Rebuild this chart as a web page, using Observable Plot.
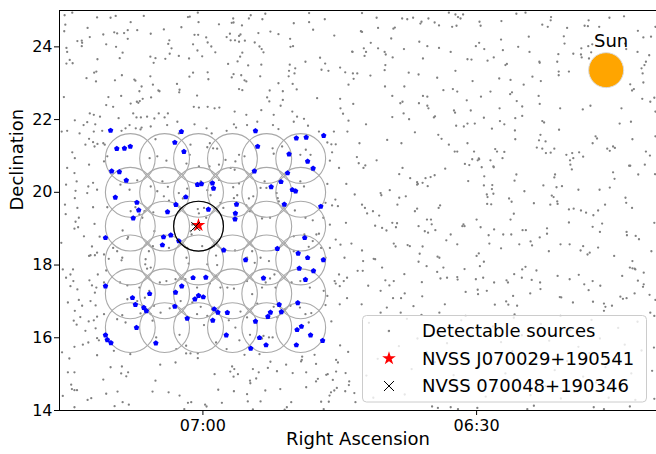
<!DOCTYPE html>
<html><head><meta charset="utf-8">
<script src="https://cdn.jsdelivr.net/npm/d3@7"></script>
<script src="https://cdn.jsdelivr.net/npm/@observablehq/plot@0.6"></script>
<style>html,body{margin:0;padding:0;background:#fff} svg{display:block}</style>
</head><body><div id="chart"></div>
<script>
// ---------- data (RA in degrees, Dec in degrees) ----------
const raDomain = [108.93, 92.57];
const decDomain = [14, 25];
const xTicks = [105, 97.5];
const xTickLabels = ["07:00", "06:30"];
const yTicks = [14, 16, 18, 20, 22, 24];

const target = {name: "NVSS J070029+190541", ra: 105.121, dec: 19.095};
const neighbour = {name: "NVSS 070048+190346", ra: 105.20, dec: 19.063};
const sun = {label: "Sun", ra: 93.95, dec: 23.36};
const sourceLabel = "Detectable sources";

const gridRA = [106.99, 106.05, 105.12, 104.19, 103.25, 102.32];
const gridDec = [20.93, 20.00, 19.07, 18.14, 17.21, 16.28];
const beamRadius = 0.685; // degrees

const grayNorthWest = [
[108.79,24.87],[108.58,24.94],[107.90,24.81],[107.53,24.80],[107.39,24.85],[106.62,24.85],[105.41,24.82],[105.36,24.83],[105.14,24.94],[104.17,24.78],[104.21,24.66],[104.16,24.67],[103.69,24.87],[103.74,24.78],[103.37,24.76],[103.29,24.91],[102.09,24.93],[101.66,24.76],
[108.77,24.61],[106.98,24.68],[105.59,24.54],[105.12,24.68],[104.56,24.62],[103.93,24.59],[102.51,24.65],[102.09,24.68],[101.98,24.47],
[108.80,24.43],[108.16,24.52],[107.73,24.34],[107.43,24.40],[107.35,24.37],[107.16,24.38],[107.06,24.46],[106.80,24.46],[106.43,24.36],[106.07,24.48],[105.23,24.33],[105.13,24.33],[104.91,24.26],[104.35,24.27],[104.26,24.36],[103.97,24.34],[104.01,24.30],[103.48,24.38],[103.15,24.42],[102.93,24.35],[101.40,24.31],[102.61,24.22],
[108.44,24.16],[108.32,24.17],[108.31,24.11],[108.10,24.27],[107.06,24.22],[105.92,24.18],[105.95,24.08],[105.27,24.07],[104.87,24.12],[104.77,24.01],[104.24,24.18],[104.12,24.18],[104.01,24.14],[103.85,24.17],[103.58,24.12],[103.45,24.01],[103.39,23.94],[103.34,23.85],[102.60,24.00],[102.53,24.02],
[108.74,23.97],[108.72,23.86],[108.32,24.02],[107.65,24.07],[107.38,24.00],[105.86,23.96],[105.15,23.90],[104.66,23.85],[100.91,23.87],
[108.65,23.64],[108.74,23.54],[108.57,23.55],[107.89,23.66],[107.28,23.69],[107.20,23.84],[106.44,23.73],[106.35,23.56],[106.30,23.69],[106.03,23.67],[105.91,23.81],[105.66,23.75],[105.38,23.68],[105.02,23.74],[104.31,23.53],[104.05,23.60],[103.92,23.84],[103.98,23.73],[103.76,23.49],[103.40,23.51],[102.62,23.51],[102.19,23.59],[101.79,23.70],[101.65,23.54],[101.24,23.43],[101.75,23.37],[101.56,23.34],[101.10,23.30],[100.89,23.27],[100.77,23.27],
[107.98,23.29],[107.92,23.32],[107.22,23.22],[106.44,23.19],[105.27,23.29],[105.37,23.18],[104.87,23.30],[104.16,23.25],[104.21,23.16],[103.95,23.22],[103.43,23.19],[102.64,23.34],[102.47,23.41],[102.49,23.27],[102.65,23.19],[100.87,23.12],
[108.19,23.14],[107.93,23.05],[107.41,23.08],[106.88,23.10],[106.85,23.07],[106.68,22.91],[106.37,22.96],[105.71,22.98],[105.64,22.82],[105.65,22.75],[104.85,23.11],[103.86,23.08],[103.81,23.05],[102.93,23.00],[102.54,22.98],[102.43,22.83],[101.01,22.96],
[106.74,22.78],[106.22,22.80],[106.19,22.78],[104.01,22.84],[103.92,22.81],[103.17,22.80],[102.81,22.78],
[108.81,22.62],[107.59,22.62],[107.24,22.65],[106.42,22.61],[106.65,22.57],[106.73,22.51],[106.81,22.49],[105.16,22.66],[103.24,22.61],[103.18,22.50],[102.81,22.54],[101.87,22.59],[101.24,22.57]
];

const grayEast = [
[100.64,24.93],[100.24,24.80],[99.54,24.78],[99.40,24.76],[99.24,24.80],[99.01,24.69],[99.04,24.64],[98.82,24.78],[98.65,24.67],[98.53,24.59],[98.26,24.94],[98.08,24.89],[98.01,24.82],[97.94,24.78],[97.87,24.89],[98.05,24.58],[98.17,24.55],[97.42,24.69],[97.39,24.58],[96.82,24.71],[96.41,24.91],[96.16,24.94],[95.70,24.61],[95.55,24.55],[95.46,24.82],[95.47,24.73],[95.02,24.52],[94.54,24.58],[94.43,24.73],[94.45,24.57],[94.14,24.55],[93.86,24.80],[93.46,24.84],[93.08,24.44],[100.67,24.43],[100.20,24.52],[99.78,24.50],[99.74,24.53],[92.60,24.55],
[100.64,24.41],[99.84,24.23],[100.40,24.11],[100.59,23.96],[100.53,23.86],[100.90,23.86],[100.02,23.86],[99.99,23.79],[100.20,23.96],[99.49,23.94],[99.07,24.14],[98.85,24.02],[98.53,23.97],[98.21,23.86],[97.52,24.02],[97.43,24.11],[97.29,23.94],[96.83,24.20],[96.78,23.91],[96.36,24.00],[96.07,24.28],[96.05,23.86],[95.11,24.29],[95.09,24.09],[95.26,23.80],[94.85,23.81],[94.64,23.79],[94.63,23.96],[94.44,24.02],[94.33,24.07],[94.36,23.85],[93.43,24.09],[93.40,23.94],[93.09,23.86],[92.93,24.26],[92.72,24.28],[92.77,23.77],
[100.57,23.75],[99.80,23.71],[98.97,23.68],[97.75,23.66],[97.64,23.65],[97.20,23.62],[97.03,23.71],[96.67,23.53],[96.71,23.50],[95.78,23.59],[95.77,23.56],[95.29,23.59],[95.25,23.32],[95.25,23.22],[94.97,23.32],[94.62,23.71],[94.42,23.68],[92.86,23.59],[92.90,23.50],[92.98,23.41],[92.95,23.27],[100.00,23.50],[100.02,23.36],[100.41,23.21],[99.36,23.29],[99.09,23.24],[98.58,23.15],[98.08,23.34],[96.88,23.13],[96.57,23.09],[95.97,23.18],[95.74,23.06],
[100.01,22.91],[99.48,22.91],[97.61,23.06],[96.21,22.96],[92.93,23.02],[93.29,22.97],[93.19,22.84],[93.24,22.80],[98.15,22.84],[98.03,22.77],[98.41,22.81],[97.12,22.77],[96.58,22.70],[96.53,22.75],[95.80,22.65],[99.81,22.65],[98.97,22.65],[98.85,22.63],[99.08,22.45],[99.53,22.49],[99.59,22.45],[97.77,22.53],[97.38,22.63],[96.40,22.51],[94.38,22.38],[94.59,22.28],[95.21,22.31],[93.53,22.31],[92.96,22.57],[92.74,22.49],[92.63,22.60],
[101.23,22.31],[101.16,22.16],[101.01,21.97],[101.04,21.67],[100.88,22.43],[100.53,21.87],[99.81,22.07],[99.50,22.17],[99.35,22.01],[98.82,22.31],[98.85,22.38],[98.64,22.09],[98.67,22.06],[98.12,22.25],[98.09,22.19],[98.06,21.83],[97.85,21.81],[97.75,21.89],[97.66,22.25],[97.55,21.89],[97.30,22.05],[97.08,21.75],[96.87,22.31],[96.86,21.96],[96.74,21.87],[96.44,22.04],[96.25,22.36],[96.25,22.10],[95.77,22.43],[95.70,21.96],[95.65,21.92],[95.24,21.72],[93.58,21.89],[93.27,21.94],[92.60,22.22],
[99.95,21.44],[99.56,21.35],[99.19,21.65],[98.55,21.58],[98.46,21.47],[98.26,21.31],[98.10,21.12],[98.03,21.12],[97.75,21.35],[97.57,21.12],[97.44,20.93],[97.62,20.91],[97.04,20.71],[96.99,21.19],[96.94,21.12],[96.79,20.94],[96.74,21.11],[96.44,21.46],[96.45,21.70],[95.79,21.43],[95.75,21.58],[95.85,21.23],[95.70,21.20],[95.60,21.08],[95.47,21.09],[95.37,21.20],[95.61,21.40],[95.04,21.03],[94.88,21.08],[94.85,20.94],[94.69,21.10],[94.58,20.98],[94.24,21.54],[94.20,21.48],[94.32,21.35],[93.92,21.20],[93.85,21.14],[93.76,21.26],[93.71,21.22],[93.23,21.46],[92.75,21.01],[92.86,21.12],[92.60,21.54],[100.78,20.97],[100.71,21.35],[100.24,20.88],
[101.07,20.23],[100.73,20.80],[100.60,20.67],[100.55,20.74],[99.53,20.67],[99.62,20.50],[99.32,20.39],[99.13,20.28],[99.11,20.23],[98.98,20.26],[98.90,20.39],[98.76,20.42],[98.65,20.47],[98.36,20.65],[97.73,20.31],[97.82,20.78],[97.70,20.75],[97.47,20.88],[97.43,20.91],[97.29,20.44],[97.12,20.88],[97.36,20.69],[97.03,20.69],[97.07,20.20],[96.41,20.49],[96.46,20.32],[95.67,20.19],[95.35,20.49],[95.37,20.41],[95.31,20.14],[95.16,20.17],[94.94,20.88],[94.93,20.76],[94.89,20.63],[93.76,20.55],[93.72,20.37],[93.85,20.13],[94.13,20.07],[93.32,20.73],[93.29,20.73],[93.07,20.49],[92.89,20.76],[92.61,20.50],
[100.84,19.94],[100.13,19.98],[100.11,19.92],[99.88,20.06],[99.62,19.85],[99.44,19.89],[99.67,19.66],[99.13,20.21],[98.84,20.17],[97.30,20.19],[97.22,19.94],[97.20,19.87],[97.08,20.09],[97.04,19.96],[97.21,19.68],[97.10,19.67],[96.61,19.83],[96.54,19.74],[96.19,20.03],[95.93,19.70],[95.44,19.91],[95.39,19.87],[95.48,19.66],[95.29,19.75],[95.28,19.68],[94.71,20.07],[94.97,19.53],[94.84,19.55],[94.64,19.50],[94.50,19.44],[94.30,19.37],[94.17,19.50],[93.98,19.66],[93.40,19.71],[93.42,19.85],[93.24,19.57],[100.64,19.66],[100.56,19.57],[100.50,19.42],[100.34,19.48],[100.17,19.36],
[101.08,19.16],[100.28,19.08],[100.09,19.02],[99.97,18.95],[99.81,19.16],[99.68,19.15],[99.71,19.04],[99.19,19.48],[99.13,19.55],[99.09,19.07],[98.86,19.25],[98.75,19.25],[98.73,19.12],[98.92,18.93],[98.83,18.89],[98.63,18.96],[98.54,19.57],[98.50,19.64],[97.86,19.12],[97.89,19.07],[97.50,19.25],[97.39,19.04],[97.02,18.98],[97.17,18.82],[96.77,18.84],[96.55,18.84],[96.48,19.41],[96.57,19.25],[96.24,18.96],[96.15,18.96],[95.77,18.76],[95.57,19.01],[94.97,19.17],[94.32,19.05],[94.06,19.14],[94.12,18.91],[93.39,18.91],[93.38,18.82],[93.14,18.80],[93.05,18.71],[92.63,19.16],
[100.93,18.59],[100.64,18.40],[100.32,18.17],[100.28,18.16],[99.77,18.59],[99.72,18.51],[99.39,18.55],[99.33,18.52],[99.06,18.31],[98.98,18.51],[98.57,18.23],[98.52,18.20],[98.33,18.68],[98.21,18.84],[98.03,18.57],[97.83,19.07],[97.44,18.32],[97.30,18.09],[97.50,18.25],[97.15,18.59],[96.83,18.46],[96.33,18.57],[96.02,18.65],[95.98,18.54],[95.57,18.86],[95.52,18.38],[95.20,18.57],[94.95,18.57],[94.65,18.40],[94.58,18.52],[94.46,18.29],[94.40,18.34],[94.17,18.48],[93.73,18.25],[93.23,18.11],[93.15,17.88],[92.71,18.38],[101.12,18.20],
[100.76,17.84],[100.62,17.84],[100.61,18.11],[100.09,17.93],[100.00,17.58],[99.89,17.44],[99.77,17.56],[99.48,17.75],[99.09,18.09],[99.00,17.53],[98.87,17.97],[98.58,17.81],[98.49,17.63],[98.41,17.93],[98.31,17.65],[98.03,17.67],[98.02,17.60],[97.83,17.89],[97.52,17.61],[97.41,17.97],[97.32,17.65],[97.02,17.52],[96.68,17.58],[96.64,17.52],[96.47,17.75],[96.25,17.88],[96.26,17.65],[96.16,17.95],[95.99,17.59],[95.86,17.85],[95.76,17.52],[95.28,17.70],[94.95,17.61],[94.70,17.73],[94.55,17.47],[94.32,17.56],[94.11,17.43],[93.51,17.70],[93.30,17.93],[93.23,17.91],[93.17,17.90],[93.08,17.57],[92.92,17.79],[92.92,17.47],[92.94,17.40],[100.47,17.43],[101.14,17.56],[101.05,17.65],
[101.05,17.09],[100.65,16.92],[100.13,17.29],[99.96,16.83],[99.79,17.09],[99.57,17.09],[99.47,17.22],[99.23,16.87],[98.99,17.14],[98.37,16.92],[97.80,17.26],[97.47,17.32],[97.46,17.20],[97.22,17.29],[97.00,16.91],[96.69,17.00],[96.63,16.91],[96.50,17.15],[96.39,16.88],[96.03,17.22],[95.75,17.34],[95.22,17.12],[95.18,17.11],[94.86,16.97],[94.43,17.31],[94.31,16.99],[94.01,16.94],[93.97,16.85],[93.79,16.88],[93.56,17.13],[93.49,17.07],[93.39,17.09],[93.17,17.22],[92.76,17.18],[92.60,17.04]
];

const grayField = [
[107.65,22.40],[107.46,22.35],[106.98,22.44],[106.77,22.46],[105.11,22.33],[105.25,22.35],[104.87,22.35],[104.68,22.31],[104.55,22.33],[104.13,22.22],[103.81,22.13],[103.40,22.26],[102.87,22.38],[103.06,22.13],[102.55,22.22],[102.42,22.08],[102.23,22.02],[107.82,22.08],[107.99,22.13],[108.10,22.17],[108.17,21.93],[107.95,21.87],[108.51,21.98],[108.27,21.85],[107.31,22.04],[106.91,22.17],[106.82,22.06],[106.70,22.06],[106.53,22.08],[106.33,22.03],[106.05,22.06],[105.96,22.17],[106.21,22.17],[105.70,21.94],[105.98,21.85],[106.43,21.81],[106.68,21.78],[107.01,21.85],[107.12,21.76],[106.84,21.76],[106.71,21.73],[105.66,21.62],[105.23,21.87],[104.90,21.76],[104.76,21.62],[104.35,21.69],[104.15,21.87],[104.09,21.78],[103.79,21.85],[103.51,21.94],[103.08,21.85],[102.93,21.74],[102.51,21.94],[102.12,21.83],[101.82,21.67],[101.41,21.67],[108.72,21.69],[108.87,21.67],[108.38,21.62],[107.99,21.67],[107.76,21.69],[107.23,21.69],
[108.22,21.31],[108.12,21.47],[108.01,21.38],[107.89,21.33],[107.73,21.35],[107.69,21.31],[107.97,21.26],[108.58,21.10],[108.51,20.94],[108.72,20.67],[108.12,20.76],[107.62,20.99],[107.71,20.85],[106.46,20.94],[106.25,20.99],[106.00,20.87],[106.30,21.46],[104.88,21.24],[104.81,21.35],[104.72,21.21],[104.61,21.20],[104.01,21.03],[103.86,20.99],[103.09,21.21],[103.06,21.06],[102.83,21.26],[102.18,21.17],[102.33,21.03],[102.05,21.03],[101.59,21.37],[101.48,21.32],[101.36,21.32],[101.46,21.10],[101.52,20.87],[101.27,20.67],[104.38,20.89],[105.36,21.03],[105.34,21.31],[105.45,20.79],[105.11,20.71],[104.82,20.71],[104.56,20.76],[104.24,20.67],[104.13,20.62],[104.11,20.85],
[108.52,20.53],[108.46,20.30],[108.75,20.21],[108.49,20.04],[108.14,20.16],[108.17,19.98],[108.51,19.84],[108.01,20.26],[107.90,20.07],[107.26,20.21],[107.01,20.07],[106.80,20.33],[106.43,20.16],[106.11,20.30],[105.96,20.15],[106.25,20.03],[106.07,19.89],[105.66,19.98],[105.43,20.10],[105.06,20.30],[104.88,20.06],[104.79,19.92],[104.56,20.34],[104.17,20.14],[104.01,20.24],[104.06,19.92],[103.74,19.83],[103.62,19.89],[103.42,20.12],[103.31,20.30],[103.26,20.12],[102.98,19.98],[102.95,19.84],[102.33,20.30],[102.23,20.16],[101.59,20.23],[101.64,19.71],[101.46,19.64],[101.30,19.62],[101.37,19.80],[108.78,19.66],[108.44,19.57],
[108.76,19.40],[108.40,19.30],[108.49,19.19],[108.42,19.04],[108.52,19.00],[108.26,18.79],[108.01,19.59],[107.62,19.59],[106.98,19.48],[106.85,19.59],[106.74,19.39],[106.60,19.48],[106.36,19.45],[106.66,19.30],[107.20,18.95],[107.05,18.77],[106.33,18.93],[105.93,19.77],[105.55,19.83],[104.97,19.57],[104.91,19.30],[105.11,19.42],[105.14,19.54],[105.29,19.11],[105.23,18.98],[105.34,18.93],[104.52,19.71],[104.44,19.57],[104.15,19.84],[103.81,19.64],[103.71,19.48],[103.38,19.28],[103.16,19.30],[102.92,19.75],[102.48,19.50],[102.19,19.30],[101.99,19.23],[101.82,18.86],[101.70,19.30],[101.52,19.11],[108.88,18.61],
[108.08,18.27],[107.96,18.27],[107.58,18.17],[107.21,18.20],[107.23,18.13],[107.35,18.38],[107.46,18.47],[106.37,18.52],[106.48,18.38],[106.57,18.16],[106.43,17.93],[106.58,18.02],[106.53,17.90],[107.07,18.72],[105.93,18.47],[105.43,18.47],[105.45,18.20],[105.39,18.04],[105.31,18.84],[105.02,18.52],[104.70,18.52],[104.64,18.26],[104.61,18.00],[104.88,18.02],[104.12,18.40],[103.79,18.20],[103.65,18.38],[103.58,18.06],[103.42,18.20],[103.19,18.11],[102.51,18.79],[102.22,18.84],[101.89,18.84],[101.99,18.66],[102.51,18.38],[102.10,18.50],[101.76,18.47],[101.64,18.20],[101.52,18.47],[101.36,18.70],[101.23,18.56],[108.84,17.88],[108.63,17.74],[108.75,17.65],[108.55,17.56],[107.88,17.74],[107.65,17.85],[107.90,18.34],[108.12,18.25],
[108.44,17.33],[108.63,17.42],[107.96,17.24],[107.71,17.52],[107.27,17.52],[107.07,17.44],[106.74,17.38],[106.47,17.29],[106.59,17.10],[106.18,17.52],[106.00,17.56],[105.75,17.61],[105.59,17.63],[105.48,17.61],[105.16,17.38],[104.81,17.49],[104.65,17.70],[104.52,17.38],[104.33,17.38],[104.15,17.35],[103.79,17.56],[103.38,17.38],[103.65,17.20],[103.28,17.52],[103.16,17.63],[103.04,17.74],[103.01,17.38],[102.57,17.52],[102.33,17.56],[102.07,17.38],[101.69,17.29],[101.59,17.15],[101.39,17.56],[101.36,17.49],[101.25,17.42],[101.27,17.74],[108.70,16.97],[108.40,17.04],[108.51,16.74],[108.31,16.88],[108.08,17.01],[107.07,17.06],[106.96,17.10],[106.80,17.01],
[107.90,16.58],[107.99,16.48],[107.94,16.26],[107.71,16.65],[107.35,16.51],[107.21,16.62],[107.12,16.42],[106.71,16.67],[106.43,16.65],[106.38,16.47],[106.34,16.88],[106.16,16.69],[105.91,16.81],[105.61,17.01],[105.29,16.97],[105.16,16.65],[105.06,16.85],[104.88,16.60],[104.75,16.78],[104.72,16.47],[104.97,16.35],[104.29,16.48],[104.11,16.28],[103.97,16.72],[103.79,16.56],[103.51,16.94],[103.06,16.85],[102.96,16.56],[102.75,16.78],[102.60,16.88],[102.34,16.83],[102.19,16.65],[102.03,16.68],[102.10,16.42],[101.64,16.90],[101.48,16.45],[101.25,16.92],[108.46,16.36],[108.22,16.19],[108.54,16.47],
[107.97,19.13],[108.04,18.51],[107.83,18.78],[107.71,18.29],[108.56,17.88],[108.11,17.58],[108.04,17.44],[107.92,17.38],[107.94,16.89],[108.36,16.57],[108.13,16.45]
];

const graySouth = [
[108.52,15.75],[108.29,15.81],[108.14,15.87],[107.90,15.99],[107.85,15.93],[107.44,15.64],[106.99,15.55],[106.28,16.01],[105.64,16.08],[105.73,15.69],[105.46,15.57],[105.34,15.57],[105.14,15.44],[105.14,15.57],[105.46,15.78],[104.64,15.87],[104.35,15.69],[104.00,15.93],[103.86,15.53],[103.71,16.08],[103.34,16.05],[103.38,15.98],[103.09,16.01],[103.45,15.55],[103.19,16.01],[101.94,15.53],[101.24,15.79],[101.02,15.61],[102.28,15.48],[102.31,15.35],[108.66,15.43],[108.86,15.60],[107.90,15.52],[107.22,15.21],[107.53,15.19],[107.24,15.02],[107.05,15.05],[107.10,14.94],[108.70,15.05],[108.52,15.05],[107.73,14.85],[106.17,15.26],[105.75,15.32],[106.30,14.82],[104.68,15.00],[104.20,15.21],[104.14,15.14],[104.25,15.07],[104.16,14.93],[104.04,15.00],[103.71,14.82],[103.70,14.75],[103.54,14.88],[103.63,15.14],[103.47,15.05],[103.22,15.17],[102.97,15.08],[102.54,15.03],[102.17,15.05],[103.15,15.34],[102.72,15.26],[102.29,15.39],[101.90,15.28],[101.85,14.87],[101.90,14.80],[101.58,15.00],[101.62,14.98],[101.35,15.07],[101.30,15.32],[101.35,15.39],[101.09,15.03],[101.44,14.84],[100.99,14.80],[101.00,14.70],[101.10,14.53],[101.33,14.62],[101.40,14.55],[101.49,14.50],[101.53,14.41],[100.85,14.48],[101.55,14.24],[101.76,14.24],[100.82,14.23],[102.17,14.64],[102.58,14.23],[102.70,14.09],[102.76,14.02],[102.88,14.59],[103.29,14.55],[103.42,14.25],[103.79,14.45],[103.77,14.25],[103.63,14.03],[104.15,14.53],[104.58,14.57],[104.48,14.21],[104.90,14.11],[104.94,14.16],[105.32,14.23],[105.41,14.21],[105.51,14.04],[105.64,14.41],[105.94,14.50],[106.38,14.52],[107.03,14.16],[107.20,14.23],[107.42,14.12],[107.34,14.52],[107.65,14.46],[108.06,14.34],[108.16,14.29],[108.84,14.40],[108.61,14.71],[108.59,14.59],[108.52,14.56],[108.45,14.56],[108.52,14.09],[101.69,14.04],
[97.80,16.60],[96.46,16.64],[95.20,16.60],[94.01,16.74],[92.74,16.69],[92.63,16.60],[99.58,16.69],[99.01,16.63],[98.52,16.69],[100.13,16.69],
[98.72,14.11],[98.56,14.07],[98.21,14.09],[98.01,14.04],[97.48,14.07],[96.11,14.04],[95.93,14.13],[94.29,14.09],[94.01,14.04],[93.30,14.11],
[92.64,15.73],[92.69,15.09],[92.63,14.32],
[100.45,16.41],[99.92,16.18],[99.63,15.77],[100.21,15.42],[100.52,14.96],[99.85,14.62],[100.33,14.35],[99.41,16.52],[99.12,15.98],[98.87,15.61],[99.28,15.14],[98.95,14.81],[99.47,14.44],[98.52,16.27],[98.31,15.85],[98.64,15.33],[98.13,14.97],[98.42,14.52],[97.92,16.48],[97.66,16.02],[97.88,15.57],[97.47,15.21],[97.71,14.73],[97.25,14.38],[97.05,16.31],[96.83,15.88],[97.12,15.46],[96.71,15.02],[96.94,14.61],[96.48,16.55],[96.26,16.07],[96.52,15.63],[96.11,15.27],[96.38,14.86],[96.02,14.42],[95.74,16.38],[95.51,15.92],[95.83,15.44],[95.36,15.11],[95.61,14.67],[95.19,14.33],[94.93,16.21],[94.71,15.75],[95.02,15.36],[94.58,14.93],[94.82,14.51],[94.35,16.49],[94.12,15.98],[94.41,15.58],[93.97,15.19],[94.23,14.77],[93.88,14.35],[93.62,16.27],[93.44,15.81],[93.71,15.41],[93.26,15.02],[93.53,14.58],[93.09,16.44],[93.15,14.29],[92.98,15.65]
];

const blueSources = [
[107.53,21.70],[105.59,21.67],[103.56,21.69],[107.36,21.20],[107.15,21.21],[106.99,21.26],[105.77,21.37],[105.52,21.12],[103.50,21.26],[102.44,21.49],[102.17,21.51],[101.69,21.56],[102.64,21.05],[102.13,20.85],[101.98,20.66],[107.50,20.58],[107.29,20.56],[107.10,20.33],[103.59,20.58],[102.68,20.53],[102.86,20.29],[105.15,20.21],[105.04,20.23],[104.74,20.25],[104.71,20.11],[103.13,20.15],[102.55,20.07],[102.46,20.03],[107.40,19.86],[105.47,19.87],[106.81,19.72],[106.76,19.51],[106.91,19.29],[105.74,19.66],[105.97,19.46],[104.85,19.53],[104.08,19.67],[104.11,19.42],[104.12,19.26],[102.77,19.67],[101.77,19.61],[107.67,18.75],[106.08,18.77],[105.88,18.82],[106.11,18.55],[105.66,18.66],[104.43,18.41],[102.21,18.75],[102.96,18.45],[102.39,18.32],[102.13,18.20],[101.70,18.14],[103.83,18.14],[102.36,17.91],[101.97,17.84],[102.19,17.60],[107.67,17.42],[105.27,17.65],[104.92,17.66],[105.58,17.42],[103.34,17.64],[105.75,17.25],[106.46,17.21],[105.12,17.16],[104.99,17.12],[105.22,17.06],[106.93,17.10],[106.85,16.91],[106.62,16.83],[106.55,16.74],[105.77,16.86],[104.69,16.79],[104.59,16.70],[104.33,16.69],[105.43,16.53],[104.73,16.48],[102.91,16.91],[103.15,16.70],[103.22,16.58],[102.85,16.71],[102.40,16.96],[103.56,16.45],[106.82,16.28],[102.42,16.22],[102.30,16.31],[102.05,16.07],[101.72,15.92],[107.67,16.07],[107.62,15.94],[107.52,15.86],[106.29,15.85],[104.36,16.07],[103.45,16.00],[103.27,15.80],[103.69,15.71],[102.44,15.80]
];

// ---------- derived tables ----------
const graySources = [...grayNorthWest, ...grayEast, ...grayField, ...graySouth];
const beams = d3.cross(gridRA, gridDec).map(([ra, dec]) => ({ra, dec}));
const pointedBeam = {ra: gridRA[2], dec: gridDec[2]};

const W = 656, H = 454, mL = 59, mR = 0, mT = 10, mB = 44;
const pxPerDeg = (H - mT - mB) / (decDomain[1] - decDomain[0]);
const beamR = beamRadius * pxPerDeg;

const pentagon = {
  draw(ctx, size) {
    const R = Math.sqrt(size / Math.PI) * 1.15;
    for (let k = 0; k < 5; k++) {
      const a = -Math.PI / 2 + k * 2 * Math.PI / 5;
      const px = R * Math.cos(a), py = R * Math.sin(a);
      if (k === 0) ctx.moveTo(px, py); else ctx.lineTo(px, py);
    }
    ctx.closePath();
  }
};

const FONT = "'DejaVu Sans', sans-serif";

const chart = Plot.plot({
  width: W, height: H,
  marginLeft: mL, marginRight: mR, marginTop: mT, marginBottom: mB,
  style: {fontFamily: FONT, fontSize: "16px", color: "black", background: "white"},
  x: {domain: raDomain},
  y: {domain: decDomain},
  marks: [
    Plot.dot(graySources, {x: d => d[0], y: d => d[1], r: 1.15, fill: "#808080", clip: true}),
    Plot.dot(beams, {x: "ra", y: "dec", r: beamR, stroke: "#a9a9a9", strokeWidth: 1.1, fill: "none"}),
    Plot.dot(blueSources, {x: d => d[0], y: d => d[1], r: 2.5, symbol: pentagon, fill: "#0000ff"}),
    Plot.dot([pointedBeam], {x: "ra", y: "dec", r: beamR, stroke: "black", strokeWidth: 1.2, fill: "none"}),
    Plot.dot([target], {x: "ra", y: "dec", r: 4.3, symbol: "star", fill: "#ff0000"}),
    Plot.dot([neighbour], {x: "ra", y: "dec", r: 4.1, symbol: "times", stroke: "black", strokeWidth: 1}),
    Plot.dot([sun], {x: "ra", y: "dec", r: 17.5, fill: "#ffa500", stroke: "#dcdcdc", strokeWidth: 1}),
    Plot.text([sun], {x: "ra", y: "dec", text: "label", dx: 5, dy: -29, fontSize: 18, fill: "black"}),
    Plot.ruleY(decDomain, {stroke: "black", strokeWidth: 1}),
    Plot.ruleX([raDomain[0]], {stroke: "black", strokeWidth: 1}),
    Plot.axisX(xTicks, {tickFormat: d => xTickLabels[xTicks.indexOf(d)], tickSize: 5, tickPadding: 4, fontSize: 16, label: null}),
    Plot.axisY(yTicks, {tickSize: 5, tickPadding: 2, fontSize: 16, label: null}),
    Plot.text(["Right Ascension"], {frameAnchor: "bottom", text: d => d, dy: 34, fontSize: 18, fill: "black"}),
    Plot.text(["Declination"], {frameAnchor: "left", text: d => d, dx: -42, rotate: -90, fontSize: 18, fill: "black"})
  ]
});

document.getElementById("chart").appendChild(chart);

// ---------- legend inside the axes ----------
const svg = d3.select(chart);
const lg = svg.append("g").attr("font-family", FONT).attr("font-size", 18)
  .attr("fill", "black").attr("text-anchor", "start");
lg.append("rect").attr("x", 362.5).attr("y", 315.5).attr("width", 284).attr("height", 86.5)
  .attr("rx", 4).attr("fill", "white").attr("fill-opacity", 0.8).attr("stroke", "#cccccc");
const rows = [
  {label: sourceLabel, y: 331},
  {label: target.name, y: 358.5},
  {label: neighbour.name, y: 386}
];
lg.append("circle").attr("cx", 389).attr("cy", rows[0].y).attr("r", 1.15).attr("fill", "#808080");
lg.append("path").attr("transform", `translate(389,${rows[1].y})`)
  .attr("d", d3.symbol(d3.symbolStar, Math.PI * 4.3 * 4.3)()).attr("fill", "#ff0000");
lg.append("path").attr("transform", `translate(389,${rows[2].y})`)
  .attr("d", d3.symbol(d3.symbolTimes, 67)()).attr("fill", "none").attr("stroke", "black").attr("stroke-width", 1);
rows.forEach(r => {
  lg.append("text").attr("x", 422).attr("y", r.y + 6.3).attr("text-anchor", "start").text(r.label);
});
</script>
</body></html>
